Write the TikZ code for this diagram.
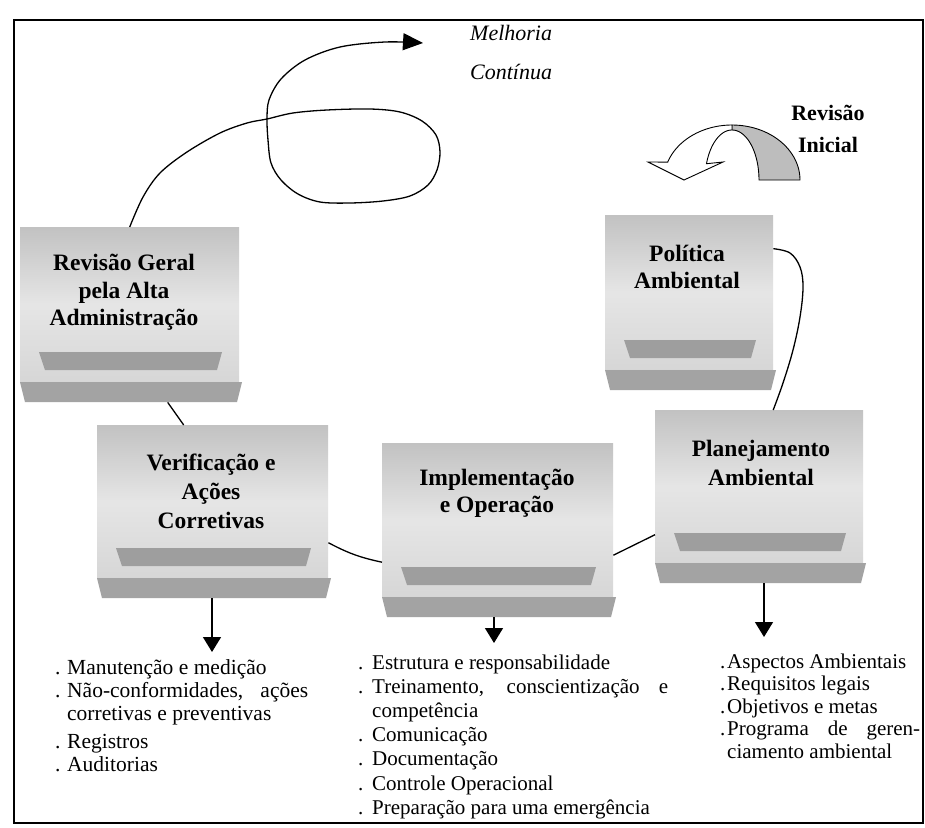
\documentclass[tikz,border=0pt]{standalone}
\usepackage{fontspec}
\setmainfont{Liberation Serif}
\usetikzlibrary{arrows.meta}
\definecolor{boxtop}{gray}{0.76}
\definecolor{boxmid}{gray}{0.90}
\definecolor{boxbot}{gray}{0.84}
\definecolor{trapfill}{gray}{0.62}
\definecolor{barfill}{gray}{0.64}
\definecolor{arrowgray}{gray}{0.74}
\newcommand\bul[1]{\makebox[#1][l]{.}}
\newcommand\platform[5]{%
  \shade[top color=boxtop, bottom color=boxbot, middle color=boxmid] (#2,#3) rectangle (#4,#5);
  \fill[trapfill] (#2+19,#5-30) -- (#4-17,#5-30) -- (#4-22,#5-12) -- (#2+25,#5-12) -- cycle;
  \fill[barfill] (#2,#5) -- (#4+3,#5) -- (#4-2,#5+20) -- (#2+5,#5+20) -- cycle;
  \node[platnode, minimum width={(#4-#2)*1pt}, minimum height={(#5+20-#3)*1pt}, anchor=north west] (#1) at (#2,#3) {};
}
\tikzset{
  conn/.style={line width=1.3pt, black},
  downarrow/.style={line width=1.4pt, -{Triangle[length=15pt,width=18pt]}},
  platnode/.style={rectangle, inner sep=0pt, draw=none},
  title/.style={align=center, inner sep=0pt},
  listtext/.style={inner sep=0pt, anchor=base west},
}
\begin{document}
\begin{tikzpicture}[x=1pt,y=-1pt]
\useasboundingbox (0,0) rectangle (925,827);
\fill[white] (0,0) rectangle (925,827);
\draw[line width=2.5pt] (14,20) rectangle (923,823);

% platforms
\platform{rg}{20}{227}{239}{382}
\platform{pa}{605}{215}{773}{370}
\platform{pl}{655}{410}{863}{563}
\platform{vc}{97}{425}{328}{578}
\platform{im}{382}{443}{613}{597}

% titles
\node[title, font=\bfseries\fontsize{23.5}{27.5}\selectfont] (rgt) at (124,292.5) {Revisão Geral\\pela Alta\\Administração};
\node[title, font=\bfseries\fontsize{23.5}{27}\selectfont] (pat) at (687,266.5) {Política\\Ambiental};
\node[title, font=\bfseries\fontsize{23.5}{29}\selectfont] (plt) at (761,462.5) {Planejamento\\Ambiental};
\node[title, font=\bfseries\fontsize{23.5}{29}\selectfont] (vct) at (211,491) {Verificação e\\Ações\\Corretivas};
\node[title, font=\bfseries\fontsize{23.5}{27}\selectfont] (imt) at (497,493.5) {Implementação\\e Operação};

% Melhoria Continua
\node[font=\itshape\fontsize{22}{39}\selectfont, align=left, anchor=west, inner sep=0pt] (mel) at (470,52.5) {Melhoria\\Contínua};
\coordinate (mc) at (423,43);
\draw[conn, -{Triangle[length=20pt,width=17pt]}] plot[smooth, tension=0.55] coordinates {(rg.north) (143,197) (160,173) (187,152) (220,133) (247,123) (267,119) (293,113) (327,110) (370,109) (400,112) (422,121) (436,135) (440,152) (437,170) (428,185) (410,196) (383,201) (350,203) (320,202) (298,194) (281,180) (271,163) (268,140) (267,119) (269,100) (281,79) (305,60) (340,47) (385,42) (mc)};

% Revisao Inicial
\node[font=\bfseries\fontsize{22}{32}\selectfont, align=center, inner sep=0pt] (ri) at (828,129) {Revisão\\Inicial};
\filldraw[fill=arrowgray, draw=black, line width=0.9pt] plot[domain=0:90, samples=30] ({732+68*cos(\x)},{180-55*sin(\x)}) -- plot[domain=90:0, samples=30] ({732+27*cos(\x)},{180-50*sin(\x)}) -- cycle;
\filldraw[fill=white, draw=black, line width=0.9pt] plot[domain=90:161, samples=30] ({732+68*cos(\x)},{180-55*sin(\x)}) -- (648,162) -- (684,180) -- (723,162) -- plot[domain=161:90, samples=30] ({732+27*cos(\x)},{180-50*sin(\x)}) -- cycle;

% connectors between platforms
\draw[conn] ([xshift=38pt]rg.south) -- ([xshift=-29pt]vc.north);
\draw[conn] ([yshift=-31pt]vc.east) to[bend right=8] ([yshift=-32pt]im.west);
\draw[conn] ([yshift=-25pt]im.east) -- ([yshift=-38pt]pl.west);
\draw[conn] plot[smooth, tension=0.6] coordinates {([yshift=54pt]pa.east) (790,253) (800,267) (803,287) (800,317) (793,350) (783,383) ([xshift=14pt]pl.north)};

% down arrows
\coordinate (va) at (212,652);
\coordinate (ia) at (494,643);
\coordinate (pla) at (764,637);
\draw[downarrow] (vc.south -| va) -- (va);
\draw[downarrow] (im.south -| ia) -- (ia);
\draw[downarrow] (pl.south -| pla) -- (pla);

% lists
\node[listtext] (vl) at (55,674) {\parbox[t]{270pt}{\fontsize{21.5}{23}\selectfont\raggedright
\bul{12pt}Manutenção e medição\\
\bul{12pt}\makebox[241pt][s]{Não-conformidades, ações}\\
\hspace*{12pt}corretivas e preventivas\\[5pt]
\bul{12pt}Registros\\
\bul{12pt}Auditorias}};
\node[listtext] (il) at (358,669) {\parbox[t]{320pt}{\fontsize{21}{24.2}\selectfont\raggedright
\bul{14pt}Estrutura e responsabilidade\\
\bul{14pt}\makebox[296pt][s]{Treinamento, conscientização e}\\
\hspace*{14pt}competência\\
\bul{14pt}Comunicação\\
\bul{14pt}Documentação\\
\bul{14pt}Controle Operacional\\
\bul{14pt}Preparação para uma emergência}};
\node[listtext] (pll) at (720,668) {\parbox[t]{210pt}{\fontsize{21}{22.5}\selectfont\raggedright
\bul{7pt}Aspectos Ambientais\\
\bul{7pt}Requisitos legais\\
\bul{7pt}Objetivos e metas\\
\bul{7pt}\makebox[193pt][s]{Programa de geren-}\\
\hspace*{7pt}ciamento ambiental}};
\end{tikzpicture}
\end{document}
